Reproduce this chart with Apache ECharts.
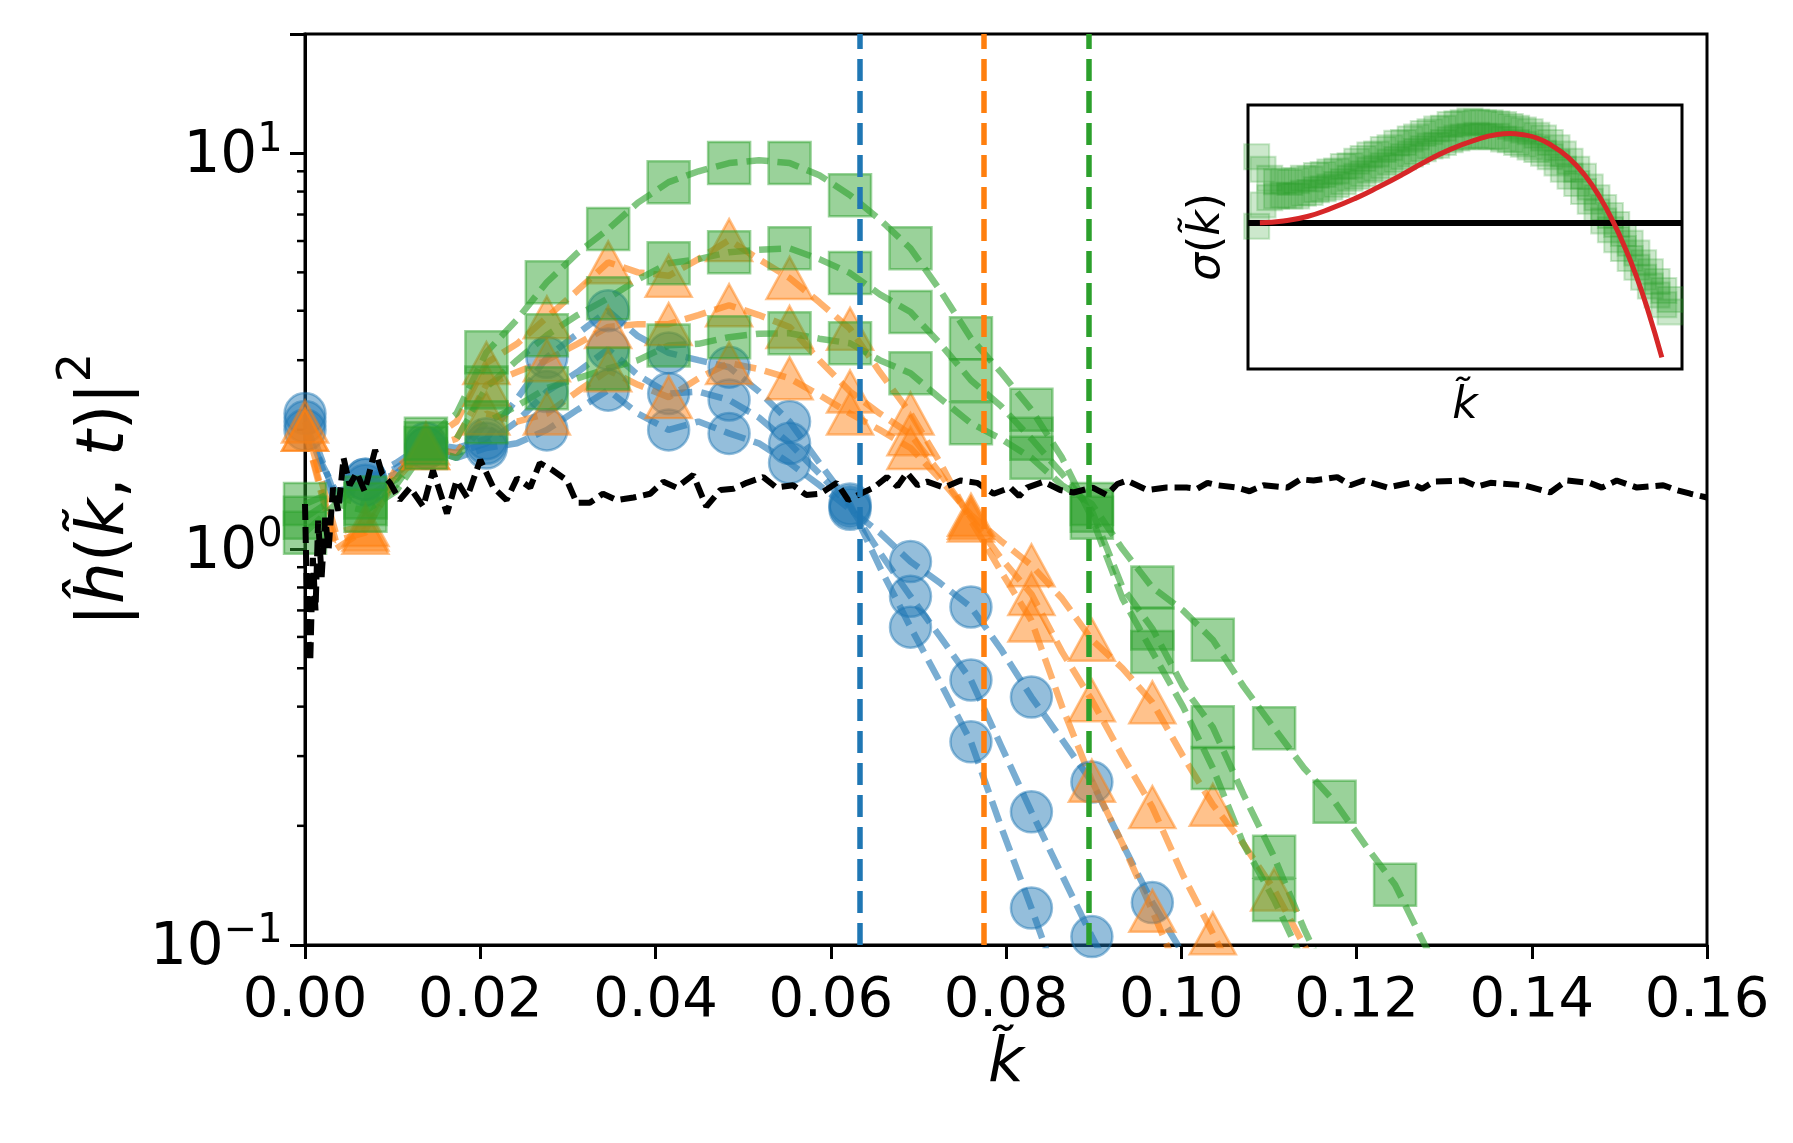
<!DOCTYPE html>
<html>
<head>
<meta charset="utf-8">
<script src="https://cdn.jsdelivr.net/npm/echarts@6/dist/echarts.min.js"></script>
<style>
html, body { margin: 0; padding: 0; background: #fff; }
#chart { width: 1793px; height: 1143px; }
</style>
</head>
<body>
<div id="chart"></div>
<script>
var FONT = "'DejaVu Sans', sans-serif";
var BLUE = '#1f77b4', ORANGE = '#ff7f0e', GREEN = '#2ca02c', RED = '#d62728';

// wavenumbers of the dashed curves (markers sit on every second one)
var kLine = [0.0000, 0.0035, 0.0069, 0.0104, 0.0138, 0.0173, 0.0207, 0.0242, 0.0276, 0.0311,
             0.0346, 0.0380, 0.0415, 0.0449, 0.0484, 0.0518, 0.0553, 0.0587, 0.0622, 0.0656,
             0.0691, 0.0725, 0.0760, 0.0794, 0.0829, 0.0864, 0.0898, 0.0933, 0.0967, 0.1002,
             0.1036, 0.1071, 0.1106, 0.1140, 0.1175, 0.1209, 0.1244, 0.1278, 0.1313];

var blueA = [2.1, 1.3, 1.5, 1.6, 1.8, 1.7, 1.8, 1.85, 2.0, 2.25, 2.52, 2.2, 2.0, 2.1, 1.96, 1.85, 1.65, 1.45, 1.26, 1.1,
             0.93, 0.82, 0.714, 0.56, 0.423, 0.33, 0.258, 0.18, 0.128, 0.095, 0.07];
var blueB = [2.0, 1.4, 1.45, 1.55, 1.8, 1.75, 1.85, 2.1, 2.5, 2.8, 3.2, 2.75, 2.47, 2.5, 2.38, 2.15, 1.85, 1.55, 1.28, 0.98,
             0.76, 0.6, 0.467, 0.32, 0.217, 0.15, 0.105, 0.075];
var blueC = [2.2, 1.35, 1.5, 1.65, 1.85, 1.8, 1.9, 2.4, 3.05, 3.5, 4.0, 3.45, 3.13, 3.0, 2.88, 2.5, 2.1, 1.65, 1.3, 0.9,
             0.635, 0.46, 0.326, 0.2, 0.124, 0.075];

var orangeA = [2.0, 1.0, 1.12, 1.5, 1.8, 1.75, 2.2, 2.1, 2.2, 2.5, 2.83, 2.6, 2.42, 2.7, 2.95, 2.85, 2.7, 2.45, 2.2, 2.0,
               1.8, 1.5, 1.22, 1.05, 0.91, 0.75, 0.59, 0.5, 0.41, 0.3, 0.226, 0.18, 0.138, 0.1, 0.072];
var orangeB = [2.0, 1.05, 1.1, 1.55, 1.8, 1.9, 2.6, 2.8, 3.0, 3.3, 3.64, 3.7, 3.7, 3.9, 4.13, 3.9, 3.64, 3.0, 2.5, 2.2,
               1.95, 1.55, 1.2, 0.95, 0.77, 0.55, 0.415, 0.3, 0.223, 0.15, 0.107, 0.075];
var orangeC = [2.1, 1.1, 1.15, 1.6, 1.85, 2.1, 2.95, 3.3, 3.85, 4.5, 5.3, 5.0, 4.9, 5.4, 6.03, 5.4, 4.84, 4.2, 3.6, 2.8,
               2.2, 1.65, 1.18, 0.88, 0.66, 0.4, 0.26, 0.18, 0.122, 0.08];

var greenA = [1.1, 1.3, 1.25, 1.4, 1.8, 1.7, 2.09, 2.3, 2.55, 2.7, 2.86, 3.0, 3.27, 3.3, 3.43, 3.5, 3.51, 3.4, 3.31, 3.0,
              2.78, 2.4, 2.08, 1.9, 1.7, 1.45, 1.3, 1.0, 0.8, 0.7, 0.59, 0.45, 0.353, 0.28, 0.23, 0.18, 0.142, 0.1, 0.072];
var greenB = [1.2, 1.35, 1.3, 1.45, 1.85, 1.9, 2.56, 3.0, 3.47, 3.9, 4.3, 4.8, 5.27, 5.4, 5.62, 5.7, 5.75, 5.4, 4.98, 4.4,
              3.97, 3.3, 2.67, 2.3, 1.9, 1.55, 1.25, 0.8, 0.63, 0.45, 0.355, 0.24, 0.167, 0.11, 0.075];
var greenC = [1.3, 1.4, 1.35, 1.5, 1.9, 2.2, 3.14, 3.8, 4.72, 5.6, 6.43, 7.5, 8.45, 9.0, 9.44, 9.6, 9.44, 8.8, 7.83, 6.8,
              5.75, 4.5, 3.41, 2.8, 2.25, 1.7, 1.2, 0.75, 0.55, 0.4, 0.28, 0.18, 0.13, 0.09];

// initial noise spectrum (black dashed)
var blackK = [0.0000, 0.0003, 0.0006, 0.0009, 0.0012, 0.0015, 0.0019, 0.0023, 0.0027, 0.0032,
              0.0038, 0.0044, 0.0051, 0.0059, 0.0068, 0.0080, 0.0088, 0.0097, 0.0108, 0.0120,
              0.0135, 0.0146, 0.0162, 0.0173, 0.0185, 0.0200, 0.0215, 0.0230, 0.0242, 0.0257,
              0.0268, 0.0283, 0.0299, 0.0310, 0.0325, 0.0340, 0.0356, 0.0375, 0.0394, 0.0409,
              0.0424, 0.0443, 0.0458, 0.0474, 0.0489, 0.0504, 0.0523, 0.0538, 0.0557, 0.0572,
              0.0588, 0.0607, 0.0620, 0.0634, 0.0649, 0.0664, 0.0676, 0.0687, 0.0699, 0.0710,
              0.0729, 0.0748, 0.0767, 0.0786, 0.0805, 0.0815, 0.0824, 0.0843, 0.0862, 0.0877,
              0.0899, 0.0915, 0.0927, 0.0938, 0.0961, 0.0983, 0.1006, 0.1018, 0.1030, 0.1041,
              0.1063, 0.1078, 0.1094, 0.1121, 0.1136, 0.1151, 0.1178, 0.1193, 0.1208, 0.1235,
              0.1261, 0.1275, 0.1288, 0.1322, 0.1338, 0.1353, 0.1391, 0.1421, 0.1440, 0.1466,
              0.1480, 0.1497, 0.1520, 0.1550, 0.1565, 0.1581, 0.1600];
var blackV = [1.30, 0.62, 0.52, 0.95, 0.70, 1.18, 0.85, 1.20, 1.00, 1.43,
              1.25, 1.70, 1.45, 1.56, 1.40, 1.78, 1.55, 1.47, 1.33, 1.43,
              1.28, 1.58, 1.23, 1.49, 1.35, 1.68, 1.43, 1.33, 1.51, 1.43,
              1.65, 1.58, 1.49, 1.31, 1.31, 1.38, 1.33, 1.35, 1.38, 1.48,
              1.43, 1.54, 1.28, 1.41, 1.42, 1.47, 1.52, 1.43, 1.45, 1.37,
              1.38, 1.47, 1.33, 1.38, 1.43, 1.52, 1.44, 1.56, 1.45, 1.48,
              1.43, 1.49, 1.47, 1.38, 1.43, 1.36, 1.43, 1.48, 1.41, 1.39,
              1.43, 1.37, 1.46, 1.49, 1.41, 1.43, 1.43, 1.42, 1.47, 1.45,
              1.43, 1.40, 1.45, 1.43, 1.50, 1.49, 1.52, 1.45, 1.49, 1.43,
              1.47, 1.42, 1.48, 1.49, 1.44, 1.47, 1.45, 1.39, 1.49, 1.47,
              1.43, 1.49, 1.43, 1.45, 1.41, 1.38, 1.35];

// critical wavenumbers (vertical dashed lines)
var critK = [0.0633, 0.0775, 0.0894];

var minorTicks = [0.2, 0.3, 0.4, 0.5, 0.6, 0.7, 0.8, 0.9, 2, 3, 4, 5, 6, 7, 8, 9];

// inset: measured growth rate (band of squares) and dispersion relation
var insetK = [-0.0008, 0.0008, 0.0025, 0.0042, 0.0059, 0.0076, 0.0093, 0.0110, 0.0127, 0.0143,
              0.0160, 0.0177, 0.0194, 0.0211, 0.0228, 0.0245, 0.0261, 0.0278, 0.0295, 0.0312,
              0.0329, 0.0346, 0.0363, 0.0380, 0.0396, 0.0413, 0.0430, 0.0447, 0.0464, 0.0481,
              0.0498, 0.0514, 0.0531, 0.0548, 0.0565, 0.0582, 0.0599, 0.0616, 0.0633, 0.0649,
              0.0666, 0.0683, 0.0700, 0.0717, 0.0734, 0.0751, 0.0767, 0.0784, 0.0801, 0.0818,
              0.0835, 0.0852, 0.0869, 0.0886, 0.0902, 0.0919, 0.0936, 0.0953, 0.0970, 0.0987,
              0.1004, 0.1021, 0.1037];
var insetUpper = [0.74, 0.60, 0.50, 0.46, 0.47, 0.45, 0.47, 0.50, 0.49, 0.53,
                  0.54, 0.57, 0.58, 0.63, 0.64, 0.69, 0.72, 0.76, 0.77, 0.82,
                  0.84, 0.89, 0.90, 0.94, 0.96, 1.00, 1.02, 1.05, 1.06, 1.10,
                  1.11, 1.12, 1.14, 1.13, 1.12, 1.12, 1.11, 1.10, 1.08, 1.06,
                  1.04, 1.02, 0.98, 0.95, 0.90, 0.84, 0.77, 0.69, 0.60, 0.52,
                  0.40, 0.28, 0.17, 0.08, -0.02, -0.12, -0.23, -0.34, -0.45, -0.55,
                  -0.66, -0.76, -0.86];
var insetLower = [-0.04, 0.20, 0.28, 0.30, 0.31, 0.30, 0.30, 0.33, 0.34, 0.37,
                  0.38, 0.40, 0.43, 0.46, 0.50, 0.52, 0.55, 0.59, 0.61, 0.64,
                  0.68, 0.71, 0.74, 0.77, 0.80, 0.83, 0.86, 0.87, 0.90, 0.93,
                  0.95, 0.96, 0.97, 0.98, 0.97, 0.96, 0.97, 0.94, 0.93, 0.90,
                  0.88, 0.85, 0.82, 0.78, 0.74, 0.67, 0.60, 0.52, 0.44, 0.35,
                  0.24, 0.12, 0.02, -0.08, -0.19, -0.29, -0.40, -0.50, -0.61, -0.71,
                  -0.81, -0.92, -1.00];
var redK = [0, 0.006, 0.012, 0.018, 0.024, 0.030, 0.036, 0.042, 0.048, 0.054, 0.060, 0.0632,
            0.066, 0.070, 0.074, 0.078, 0.082, 0.086, 0.0894, 0.092, 0.095, 0.098, 0.1016];
var redS = [0, 0.02, 0.07, 0.16, 0.27, 0.40, 0.54, 0.69, 0.82, 0.92, 0.99, 1.0,
            0.99, 0.95, 0.86, 0.73, 0.54, 0.28, 0, -0.25, -0.58, -0.97, -1.51];

function pairs(xs, ys) {
    var out = [];
    for (var i = 0; i < ys.length; i++) out.push([xs[i], ys[i]]);
    return out;
}

function markerPoints(ys) {
    var out = [];
    for (var i = 0; i < ys.length; i += 2) {
        if (ys[i] >= 0.1) out.push([kLine[i], ys[i]]);
    }
    return out;
}

function rgba(hex, a) {
    var n = parseInt(hex.slice(1), 16);
    return 'rgba(' + (n >> 16) + ',' + ((n >> 8) & 255) + ',' + (n & 255) + ',' + a + ')';
}

function powLabel(v) {
    var lg = Math.log(v) / Math.LN10;
    var e = Math.round(lg);
    if (Math.abs(lg - e) > 0.001) return '';
    return '{b|10}{s|' + (e < 0 ? '\u2212' : '') + Math.abs(e) + '}{h| }';
}

var groups = [
    { color: BLUE, symbol: 'circle', size: 41, curves: [blueA, blueB, blueC] },
    { color: ORANGE, symbol: 'triangle', size: [46, 42], curves: [orangeA, orangeB, orangeC] },
    { color: GREEN, symbol: 'rect', size: 42, curves: [greenA, greenB, greenC] }
];

var series = [];
groups.forEach(function (g) {
    g.curves.forEach(function (c) {
        series.push({
            type: 'line', xAxisIndex: 0, yAxisIndex: 0, z: 2,
            data: pairs(kLine, c), showSymbol: false, symbol: 'none',
            lineStyle: { color: g.color, width: 6.5, opacity: 0.6, type: [22, 9] }
        });
        series.push({
            type: 'scatter', xAxisIndex: 0, yAxisIndex: 0, z: 2,
            data: markerPoints(c), symbol: g.symbol, symbolSize: g.size,
            itemStyle: { color: rgba(g.color, 0.6), borderColor: rgba(g.color, 0.6), borderWidth: 2.5 }
        });
    });
});

series.push({
    type: 'line', xAxisIndex: 0, yAxisIndex: 0, z: 3,
    data: pairs(blackK, blackV), showSymbol: false, symbol: 'none',
    lineStyle: { color: '#000', width: 6, type: [16, 7] },
    markLine: {
        silent: true, symbol: ['none', 'none'], label: { show: false }, precision: 6,
        data: [
            { xAxis: critK[0], lineStyle: { color: BLUE, width: 5.5, type: [22, 10] } },
            { xAxis: critK[1], lineStyle: { color: ORANGE, width: 5.5, type: [22, 10] } },
            { xAxis: critK[2], lineStyle: { color: GREEN, width: 5.5, type: [22, 10] } }
        ]
    }
});

// minor ticks of the log axis
series.push({
    type: 'custom', xAxisIndex: 0, yAxisIndex: 0, clip: false, silent: true,
    data: minorTicks.map(function (v) { return [0, v]; }),
    renderItem: function (params, api) {
        var p = api.coord([api.value(0), api.value(1)]);
        return {
            type: 'line',
            shape: { x1: p[0] - 8, y1: p[1], x2: p[0], y2: p[1] },
            style: { stroke: '#000', lineWidth: 2.5 }
        };
    }
});

// inset
series.push({
    type: 'scatter', xAxisIndex: 1, yAxisIndex: 1, z: 5,
    data: pairs(insetK, insetUpper).concat(pairs(insetK, insetLower)),
    symbol: 'rect', symbolSize: 25,
    itemStyle: { color: rgba(GREEN, 0.3), borderColor: rgba(GREEN, 0.3), borderWidth: 2 },
    markLine: {
        silent: true, symbol: ['none', 'none'], label: { show: false }, z: 6,
        data: [{ yAxis: 0 }],
        lineStyle: { color: '#000', width: 6, type: 'solid' }
    }
});
series.push({
    type: 'line', xAxisIndex: 1, yAxisIndex: 1, z: 7,
    data: pairs(redK, redS), showSymbol: false, symbol: 'none', smooth: true,
    lineStyle: { color: RED, width: 5 }
});

var chart = echarts.init(document.getElementById('chart'));

chart.setOption({
    animation: false,
    backgroundColor: '#fff',
    grid: [
        { left: 305, top: 34, width: 1402, height: 911, show: true, borderColor: '#000', borderWidth: 3 },
        { left: 1248, top: 105, width: 434, height: 264, show: true, borderColor: '#000', borderWidth: 3,
          backgroundColor: '#fff', z: 4 }
    ],
    xAxis: [
        {
            gridIndex: 0, type: 'value', min: 0, max: 0.16, interval: 0.02,
            axisLine: { lineStyle: { color: '#000', width: 3 } },
            axisTick: { length: 14, lineStyle: { color: '#000', width: 3 } },
            splitLine: { show: false },
            axisLabel: {
                margin: 28, color: '#000', fontFamily: FONT, fontSize: 56,
                formatter: function (v) { return v.toFixed(2); }
            },
            name: 'k\u0303', nameLocation: 'middle', nameGap: 78,
            nameTextStyle: { color: '#000', fontFamily: FONT, fontSize: 62, fontStyle: 'italic' }
        },
        {
            gridIndex: 1, type: 'value', min: -0.003, max: 0.1067,
            axisLine: { show: false }, axisTick: { show: false },
            axisLabel: { show: false }, splitLine: { show: false },
            name: 'k\u0303', nameLocation: 'middle', nameGap: 16,
            nameTextStyle: { color: '#000', fontFamily: FONT, fontSize: 44, fontStyle: 'italic' }
        }
    ],
    yAxis: [
        {
            gridIndex: 0, type: 'log', logBase: 10, min: 0.1, max: 20,
            axisLine: { lineStyle: { color: '#000', width: 3 } },
            axisTick: { length: 15, lineStyle: { color: '#000', width: 3 } },
            splitLine: { show: false },
            axisLabel: {
                margin: 22, color: '#000', formatter: powLabel,
                rich: {
                    b: { fontFamily: FONT, fontSize: 58, lineHeight: 58, verticalAlign: 'bottom', color: '#000' },
                    s: { fontFamily: FONT, fontSize: 40, lineHeight: 40, verticalAlign: 'top', color: '#000' },
                    h: { fontSize: 1, lineHeight: 66 }
                }
            },
            name: '{n||}{i|\u0125}{n|(}{i|k\u0303}{n|,}{i| t}{n|)|}{s|2}{h| }',
            nameLocation: 'middle', nameRotate: 90, nameGap: 158,
            nameTextStyle: {
                color: '#000',
                rich: {
                    n: { fontFamily: FONT, fontSize: 66, lineHeight: 66, verticalAlign: 'bottom', color: '#000' },
                    i: { fontFamily: FONT, fontSize: 66, lineHeight: 66, verticalAlign: 'bottom', fontStyle: 'italic', color: '#000' },
                    s: { fontFamily: FONT, fontSize: 46, lineHeight: 46, verticalAlign: 'top', color: '#000' },
                    h: { fontSize: 1, lineHeight: 84 }
                }
            }
        },
        {
            gridIndex: 1, type: 'value', min: -1.64, max: 1.32,
            axisLine: { show: false }, axisTick: { show: false },
            axisLabel: { show: false }, splitLine: { show: false },
            name: '{i|\u03c3}{n|(}{i|k\u0303}{n|)}',
            nameLocation: 'middle', nameRotate: 90, nameGap: 18,
            nameTextStyle: {
                color: '#000',
                rich: {
                    n: { fontFamily: FONT, fontSize: 44, color: '#000' },
                    i: { fontFamily: FONT, fontSize: 44, fontStyle: 'italic', color: '#000' }
                }
            }
        }
    ],
    series: series
});
</script>
</body>
</html>
